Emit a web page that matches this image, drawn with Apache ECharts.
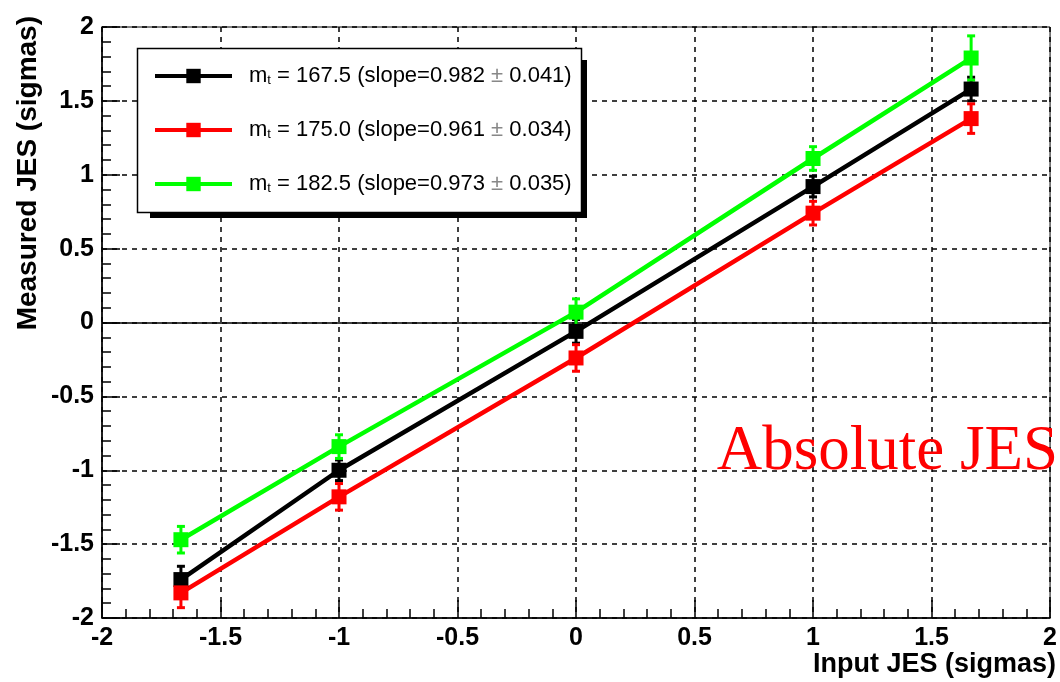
<!DOCTYPE html>
<html>
<head>
<meta charset="utf-8">
<script src="https://cdn.jsdelivr.net/npm/echarts@6/dist/echarts.min.js"></script>
<style>
  html, body { margin: 0; padding: 0; background: #fff; }
  #chart { width: 1060px; height: 682px; }
</style>
</head>
<body>
<div id="chart"></div>
<script>
// Input JES shifts (in sigmas) used for the pseudo-experiments
const inputJes = [-1.667, -1, 0, 1, 1.667];

// Measured JES for each top-mass hypothesis, with statistical errors
const mt1675 = [-1.74, -1.00, -0.06, 0.92, 1.58];
const mt1675Err = [0.09, 0.07, 0.08, 0.07, 0.08];
const mt1750 = [-1.83, -1.18, -0.24, 0.74, 1.38];
const mt1750Err = [0.10, 0.09, 0.09, 0.08, 0.10];
const mt1825 = [-1.47, -0.84, 0.07, 1.11, 1.79];
const mt1825Err = [0.09, 0.08, 0.09, 0.08, 0.15];

const seriesNames = [
  'm_t = 167.5 (slope=0.982 ± 0.041)',
  'm_t = 175.0 (slope=0.961 ± 0.034)',
  'm_t = 182.5 (slope=0.973 ± 0.035)'
];
const legendText = [
  ['167.5', '0.982', '0.041'],
  ['175.0', '0.961', '0.034'],
  ['182.5', '0.973', '0.035']
];
const colors = ['#000000', '#ff0000', '#00ff00'];

const axisTicks = [-2, -1.5, -1, -0.5, 0, 0.5, 1, 1.5, 2];

const sets = [
  { vals: mt1675, errs: mt1675Err },
  { vals: mt1750, errs: mt1750Err },
  { vals: mt1825, errs: mt1825Err }
];

function pairs(vals) {
  return inputJes.map((x, i) => [x, vals[i]]);
}
function withErr(vals, errs) {
  return inputJes.map((x, i) => [x, vals[i], errs[i]]);
}

function errorBars(color) {
  return function (params, api) {
    const x = api.value(0), y = api.value(1), e = api.value(2);
    const top = api.coord([x, y + e]);
    const bot = api.coord([x, y - e]);
    const cw = 4;
    const st = { stroke: color, lineWidth: 3 };
    return {
      type: 'group',
      children: [
        { type: 'line', shape: { x1: top[0], y1: top[1], x2: bot[0], y2: bot[1] }, style: st },
        { type: 'line', shape: { x1: top[0] - cw, y1: top[1], x2: top[0] + cw, y2: top[1] }, style: st },
        { type: 'line', shape: { x1: bot[0] - cw, y1: bot[1], x2: bot[0] + cw, y2: bot[1] }, style: st }
      ]
    };
  };
}

const series = [];
sets.forEach((s, i) => {
  series.push({
    name: 'err' + i,
    type: 'custom',
    renderItem: errorBars(colors[i]),
    data: withErr(s.vals, s.errs),
    z: 3,
    silent: true
  });
});
sets.forEach((s, i) => {
  const line = {
    name: seriesNames[i],
    type: 'line',
    data: pairs(s.vals),
    symbol: 'rect',
    symbolSize: 15,
    color: colors[i],
    lineStyle: { color: colors[i], width: 4.5 },
    itemStyle: { color: colors[i] },
    z: 4,
    animation: false
  };
  if (i === 0) {
    line.markLine = {
      silent: true,
      symbol: 'none',
      label: { show: false },
      lineStyle: { color: '#000', type: 'solid', width: 1.5 },
      data: [{ yAxis: 0 }],
      z: 2
    };
  }
  series.push(line);
});

const tickFont = { fontFamily: 'Liberation Sans, Arial, sans-serif', fontWeight: 'bold', fontSize: 25, color: '#000' };
const legendFont = 'Liberation Sans, Arial, sans-serif';

const chart = echarts.init(document.getElementById('chart'), null, { renderer: 'canvas' });
chart.setOption({
  animation: false,
  backgroundColor: '#fff',
  grid: {
    left: 102, right: 2, top: 27, bottom: 64,
    show: true, borderColor: '#000', borderWidth: 1, backgroundColor: 'transparent'
  },
  xAxis: {
    type: 'value', min: -2, max: 2, interval: 0.5,
    axisLine: { onZero: false, lineStyle: { color: '#000', width: 1.5 } },
    axisTick: { inside: true, length: 18, lineStyle: { color: '#000', width: 1.5 } },
    minorTick: { show: true, splitNumber: 5, length: 9, lineStyle: { color: '#000', width: 1.5 } },
    splitLine: { show: true, lineStyle: { color: '#000', type: [5, 5], width: 1.5 } },
    axisLabel: Object.assign({
      margin: 8, showMinLabel: true, showMaxLabel: true,
      formatter: v => String(axisTicks.find(t => Math.abs(t - v) < 1e-9) ?? v)
    }, tickFont)
  },
  yAxis: {
    type: 'value', min: -2, max: 2, interval: 0.5,
    axisLine: { onZero: false, lineStyle: { color: '#000', width: 1.5 } },
    axisTick: { inside: true, length: 18, lineStyle: { color: '#000', width: 1.5 } },
    minorTick: { show: true, splitNumber: 5, length: 9, lineStyle: { color: '#000', width: 1.5 } },
    splitLine: { show: true, lineStyle: { color: '#000', type: [5, 5], width: 1.5 } },
    axisLabel: Object.assign({
      margin: 8, showMinLabel: true, showMaxLabel: true,
      formatter: v => String(axisTicks.find(t => Math.abs(t - v) < 1e-9) ?? v)
    }, tickFont)
  },
  legend: {
    data: seriesNames,
    orient: 'vertical',
    left: 153, top: 65,
    padding: 0,
    itemWidth: 77, itemHeight: 18,
    itemGap: 32,
    selectedMode: false,
    lineStyle: { width: 4 },
    formatter: function (name) {
      const i = seriesNames.indexOf(name);
      const t = legendText[i];
      return '{sp|}{m|m}{t|t}{r| = ' + t[0] + ' (slope=' + t[1] + ' }{pm|±}{r| ' + t[2] + ')}';
    },
    textStyle: {
      fontFamily: legendFont,
      fontSize: 22,
      color: '#000',
      rich: {
        sp: { width: 12 },
        m: { fontSize: 22, fontFamily: legendFont, color: '#000' },
        t: { fontSize: 13, fontFamily: legendFont, color: '#000', verticalAlign: 'bottom', padding: [9, 0, 0, 0] },
        r: { fontSize: 22, fontFamily: legendFont, color: '#000' },
        pm: { fontSize: 22, fontFamily: legendFont, color: '#888' }
      }
    },
    z: 20
  },
  graphic: [
    // legend frame with drop shadow
    { type: 'rect', z: 10, shape: { x: 150, y: 60, width: 437, height: 158 }, style: { fill: '#000' } },
    { type: 'rect', z: 11, shape: { x: 137.5, y: 48.5, width: 444, height: 164 }, style: { fill: '#fff', stroke: '#000', lineWidth: 1.5 } },
    {
      type: 'text', z: 12, x: 1056, y: 665,
      style: {
        text: 'Input JES (sigmas)', fill: '#000',
        font: 'bold 27px "Liberation Sans", Arial, sans-serif',
        textAlign: 'right', textVerticalAlign: 'middle'
      }
    },
    {
      type: 'text', z: 12, x: 28, y: 16, rotation: Math.PI / 2,
      style: {
        text: 'Measured JES (sigmas)', fill: '#000',
        font: 'bold 28px "Liberation Sans", Arial, sans-serif',
        textAlign: 'right', textVerticalAlign: 'middle'
      }
    },
    {
      type: 'text', z: 12, x: 1058, y: 452,
      style: {
        text: 'Absolute JES', fill: '#ff0000',
        font: '63px "Liberation Serif", "Times New Roman", serif',
        textAlign: 'right', textVerticalAlign: 'middle'
      }
    }
  ],
  series: series
});
</script>
</body>
</html>
